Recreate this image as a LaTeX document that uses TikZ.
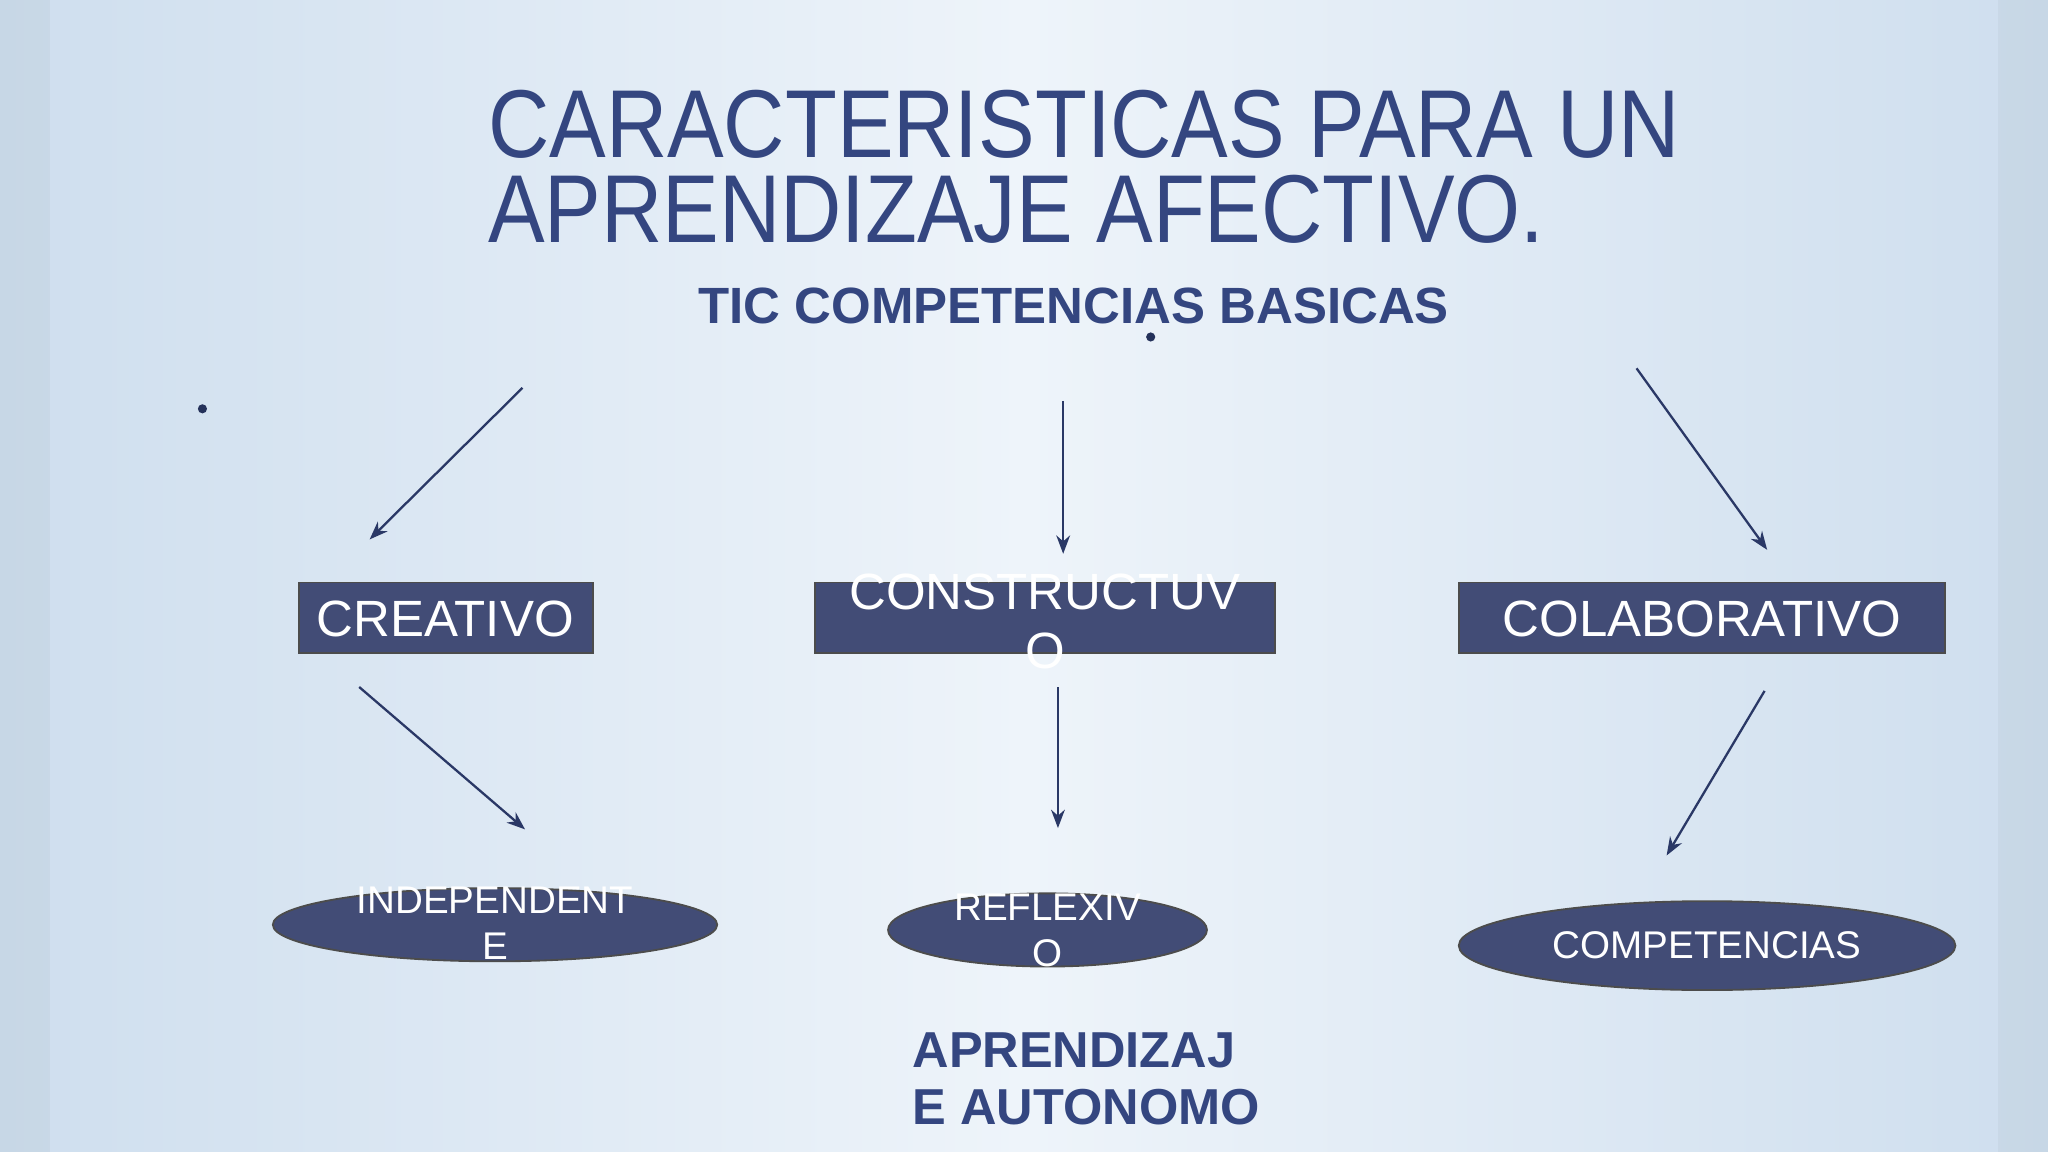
\documentclass[tikz,border=0pt]{standalone}
\usepackage{fontspec}
\setmainfont{Liberation Sans}
\usetikzlibrary{shapes.geometric,arrows.meta}
\definecolor{ink}{RGB}{52,70,128}
\definecolor{boxc}{RGB}{66,76,118}
\definecolor{bgA}{RGB}{206,222,238}
\definecolor{bgB}{RGB}{238,244,250}
\tikzset{
 px/.style={x=0.01cm,y=-0.01cm},
 rbox/.style={draw=black!70,fill=boxc,inner sep=0pt},
 ell/.style={ellipse,draw=black!70,fill=boxc,inner sep=0pt},
 wtxt/.style={text=white,align=center,inner sep=0pt},
 conn/.style={draw=ink!80!black,line width=0.5pt,-{Stealth[length=4pt,width=3pt]}}
}
\begin{document}
\begin{tikzpicture}[px]
\useasboundingbox (0,0) rectangle (1568,882);
\shade[left color=bgA,right color=bgB] (0,0) rectangle (784,882);
\shade[left color=bgB,right color=bgA] (784,0) rectangle (1568,882);
\fill[bgA!90!black,opacity=0.3] (0,0) rectangle (38,882);
\fill[bgA!90!black,opacity=0.3] (1530,0) rectangle (1568,882);
\node[anchor=west,text=ink,font=\fontsize{21}{22}\selectfont,inner sep=0pt] (t1) at (373,95) {\scalebox{0.88}[1]{CARACTERISTICAS PARA UN}};
\node[anchor=west,text=ink,font=\fontsize{21}{22}\selectfont,inner sep=0pt] (t2) at (373,160) {\scalebox{0.88}[1]{APRENDIZAJE AFECTIVO.}};
\node[text=ink,font=\bfseries\fontsize{11.1}{12}\selectfont,inner sep=0pt] (sub) at (822,234) {TIC COMPETENCIAS BASICAS};
\fill[ink!70!black] (881,258) circle (3.5);
\fill[ink!70!black] (155,313) circle (3.5);
\path[rbox] (229,446) rectangle (454,500);
\node[wtxt,font=\fontsize{11.1}{12}\selectfont] (cr) at (341,474) {CREATIVO};
\path[rbox] (624,446) rectangle (976,500);
\node[wtxt,font=\fontsize{11.1}{12.8}\selectfont] (co) at (800,476) {CONSTRUCTUV\\O};
\path[rbox] (1117,446) rectangle (1489,500);
\node[wtxt,font=\fontsize{11.1}{12}\selectfont] (cl) at (1303,474) {COLABORATIVO};
\node[ell,minimum width=3.4cm,minimum height=0.56cm] (e1) at (379,708) {};
\node[wtxt,font=\fontsize{8.4}{10}\selectfont] at (379,707) {INDEPENDENT\\E};
\node[ell,minimum width=2.44cm,minimum height=0.56cm] (e2) at (802,712) {};
\node[wtxt,font=\fontsize{8.4}{10}\selectfont] at (802,712) {REFLEXIV\\O};
\node[ell,minimum width=3.8cm,minimum height=0.68cm] (e3) at (1307,724) {};
\node[wtxt,font=\fontsize{8.4}{10}\selectfont] at (1307,724) {COMPETENCIAS};
\node[text=ink,font=\bfseries\fontsize{11}{12.5}\selectfont,align=left,anchor=north west,inner sep=0pt] (ap) at (698,790) {APRENDIZAJ\\E AUTONOMO};
\coordinate (a1) at (400,297); \coordinate (b1) at (283,413);
\coordinate (a2) at (814,307); \coordinate (b2) at (814,424);
\coordinate (a3) at (1253,282); \coordinate (b3) at (1353,421);
\coordinate (a4) at (275,526); \coordinate (b4) at (402,635);
\coordinate (a5) at (810,526); \coordinate (b5) at (810,634);
\coordinate (a6) at (1351,529); \coordinate (b6) at (1276,655);
\foreach \i in {1,...,6} \draw[conn] (a\i) -- (b\i);
\end{tikzpicture}
\end{document}
